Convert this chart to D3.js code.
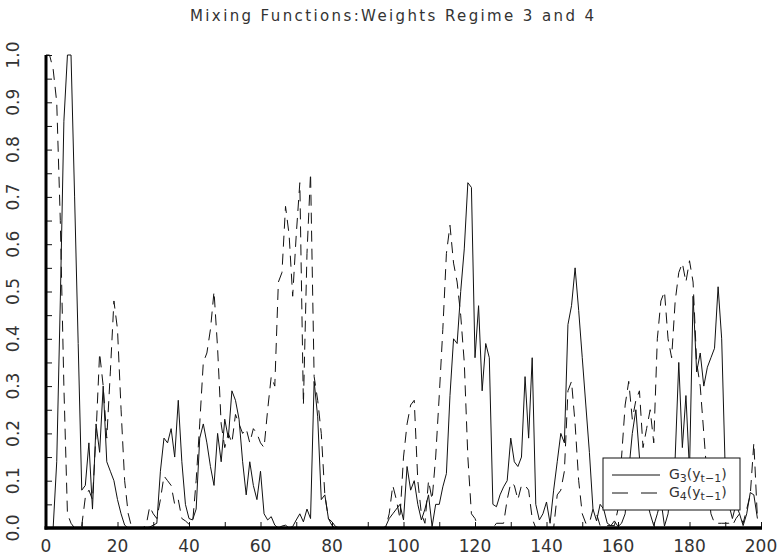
<!DOCTYPE html>
<html>
<head>
<meta charset="utf-8">
<script src="https://cdn.jsdelivr.net/npm/d3@7"></script>
<style>
  html, body { margin: 0; padding: 0; background: #fff; }
  svg { display: block; }
  text { font-family: "DejaVu Sans", sans-serif; fill: #333; }
</style>
</head>
<body>
<svg id="chart" width="782" height="556"></svg>
<script>
// Mixing functions: weights of regime 3 and 4, t = 0..199

const TITLE = 'Mixing Functions:Weights Regime 3 and 4';
const X_TICKS = [0, 20, 40, 60, 80, 100, 120, 140, 160, 180, 200];
const Y_TICKS = [0, 0.1, 0.2, 0.3, 0.4, 0.5, 0.6, 0.7, 0.8, 0.9, 1.0];

// G3(y_{t-1}) - solid
const g3 = [
  0, 0, 0, 0.14, 0.48, 0.86, 1.0, 1.0, 0.7, 0.39,
  0.08, 0.09, 0.18, 0.04, 0.22, 0.16, 0.30, 0.14, 0.12, 0.10,
  0.06, 0.03, 0.006, 0, 0, 0, 0, 0, 0, 0.002,
  0.006, 0.01, 0.12, 0.19, 0.18, 0.21, 0.15, 0.27, 0.14, 0.05,
  0.02, 0.017, 0.04, 0.19, 0.22, 0.18, 0.13, 0.09, 0.20, 0.14,
  0.23, 0.19, 0.29, 0.27, 0.23, 0.14, 0.07, 0.14, 0.09, 0.06,
  0.12, 0.03, 0.017, 0.024, 0.006, 0, 0.004, 0.006, 0, 0.003,
  0.017, 0.03, 0.013, 0.04, 0.02, 0.31, 0.235, 0.06, 0.07, 0.02,
  0.013, 0.003, 0, 0, 0, 0, 0, 0, 0, 0,
  0, 0, 0, 0, 0, 0.003, 0.02, 0.03, 0.04, 0.05,
  0.017, 0.13, 0.08, 0.10, 0.05, 0.017, 0.04, 0.07, 0.003, 0.05,
  0.05, 0.087, 0.115, 0.28, 0.40, 0.39, 0.50, 0.59, 0.73, 0.72,
  0.36, 0.47, 0.29, 0.39, 0.36, 0.05, 0.045, 0.07, 0.087, 0.10,
  0.19, 0.14, 0.13, 0.15, 0.32, 0.19, 0.36, 0.05, 0.017, 0.03,
  0.055, 0.01, 0.08, 0.14, 0.20, 0.18, 0.43, 0.47, 0.55, 0.46,
  0.36, 0.26, 0.16, 0.04, 0.015, 0.05, 0.04, 0.01, 0.005, 0.015,
  0.003, 0.01, 0.03, 0.12, 0.20, 0.25, 0.15, 0.09, 0.06, 0.03,
  0.005, 0.03, 0.06, 0.004, 0.03, 0.10, 0.15, 0.35, 0.17, 0.28,
  0.12, 0.49, 0.33, 0.37, 0.30, 0.34, 0.36, 0.38, 0.51, 0.40,
  0.12, 0.05, 0.02, 0.05, 0.03, 0.005, 0.03, 0.075, 0.07, 0.02
];

// G4(y_{t-1}) - dashed
const g4 = [
  1.0, 1.0, 0.97, 0.9, 0.65, 0.3, 0.03, 0.01, 0, 0,
  0.005, 0.065, 0.08, 0.06, 0.20, 0.37, 0.30, 0.19, 0.33, 0.48,
  0.42, 0.25, 0.10, 0.03, 0, 0, 0, 0, 0.005, 0.045,
  0.03, 0.02, 0.06, 0.11, 0.10, 0.09, 0.05, 0.06, 0.02, 0.015,
  0.008, 0.01, 0.10, 0.22, 0.35, 0.37, 0.42, 0.50, 0.38, 0.22,
  0.17, 0.20, 0.18, 0.24, 0.22, 0.20, 0.21, 0.18, 0.21, 0.20,
  0.18, 0.17, 0.25, 0.32, 0.30, 0.52, 0.54, 0.68, 0.62, 0.49,
  0.62, 0.73, 0.26, 0.58, 0.75, 0.32, 0.27, 0.20, 0.07, 0.02,
  0.005, 0, 0, 0, 0, 0, 0, 0, 0, 0,
  0, 0, 0, 0, 0, 0, 0.03, 0.09, 0.06, 0.02,
  0.15, 0.22, 0.26, 0.27, 0.10, 0.03, 0.01, 0.10, 0.06, 0.15,
  0.28, 0.42, 0.58, 0.64, 0.56, 0.52, 0.45, 0.35, 0.15, 0.03,
  0.02, 0, 0, 0, 0, 0, 0.01, 0.01, 0.01, 0.06,
  0.095, 0.09, 0.06, 0.09, 0.09, 0.08, 0.02, 0, 0, 0,
  0, 0, 0, 0.07, 0.08, 0.12, 0.29, 0.31, 0.22, 0.10,
  0.03, 0.01, 0.01, 0.04, 0.03, 0.005, 0.005, 0.005, 0.005, 0.005,
  0.04, 0.15, 0.26, 0.31, 0.23, 0.27, 0.29, 0.17, 0.21, 0.25,
  0.18, 0.40, 0.48, 0.50, 0.40, 0.36, 0.48, 0.54, 0.56, 0.52,
  0.565, 0.52, 0.35, 0.30, 0.20, 0.10, 0.03, 0.01, 0.01, 0.01,
  0.01, 0.01, 0.005, 0.02, 0.03, 0.01, 0.04, 0.07, 0.18, 0.02
];

const svg = d3.select('#chart');

const x = d3.scaleLinear().domain([0, 200]).range([46, 761]);
const y = d3.scaleLinear().domain([0, 1]).range([528, 55]);

// title
svg.append('text')
  .attr('x', 392)
  .attr('y', 21)
  .attr('text-anchor', 'middle')
  .attr('textLength', 404)
  .attr('lengthAdjust', 'spacing')
  .style('font-size', '15px')
  .text(TITLE);

// series
const line = d3.line()
  .x((d, i) => x(i))
  .y(d => y(d));

svg.append('path')
  .datum(g3)
  .attr('fill', 'none')
  .attr('stroke', '#111')
  .attr('stroke-width', 1)
  .attr('d', line);

svg.append('path')
  .datum(g4)
  .attr('fill', 'none')
  .attr('stroke', '#111')
  .attr('stroke-width', 1)
  .attr('stroke-dasharray', '11,7')
  .attr('d', line);

// axes: inward ticks, thick spines
const yAxis = d3.axisRight(y)
  .tickValues(d3.range(0, 1.0001, 0.05))
  .tickSize(6)
  .tickFormat('');

const xAxis = d3.axisTop(x)
  .tickValues(d3.range(0, 201, 10))
  .tickSize(6)
  .tickFormat('');

const gy = svg.append('g').attr('transform', `translate(${x(0)},0)`).call(yAxis);
const gx = svg.append('g').attr('transform', `translate(0,${y(0)})`).call(xAxis);

[gy, gx].forEach(g => {
  g.select('.domain').remove();
  g.selectAll('.tick line').attr('stroke', '#111').attr('stroke-width', 1);
});

svg.append('line')
  .attr('x1', x(0)).attr('x2', x(0))
  .attr('y1', y(1)).attr('y2', y(0) + 1.5)
  .attr('stroke', '#000').attr('stroke-width', 3);

svg.append('line')
  .attr('x1', x(0) - 1.5).attr('x2', x(200) + 1)
  .attr('y1', y(0)).attr('y2', y(0))
  .attr('stroke', '#000').attr('stroke-width', 3.5);

// tick labels
svg.append('g')
  .selectAll('text')
  .data(Y_TICKS)
  .join('text')
  .attr('transform', d => `translate(19,${y(d)}) rotate(-90)`)
  .attr('text-anchor', 'middle')
  .style('font-size', '17px')
  .text(d => d.toFixed(1));

svg.append('g')
  .selectAll('text')
  .data(X_TICKS)
  .join('text')
  .attr('x', d => x(d))
  .attr('y', 552)
  .attr('text-anchor', 'middle')
  .style('font-size', '17px')
  .text(d => d);

// legend
const legend = svg.append('g').attr('transform', 'translate(603,458)');

legend.append('rect')
  .attr('width', 137)
  .attr('height', 52)
  .attr('fill', '#fff')
  .attr('stroke', '#111')
  .attr('stroke-width', 1);

const entries = [
  { sub: '3', dash: null, yy: 17 },
  { sub: '4', dash: '16,13', yy: 35 }
];

entries.forEach(e => {
  legend.append('line')
    .attr('x1', 9).attr('x2', 57)
    .attr('y1', e.yy).attr('y2', e.yy)
    .attr('stroke', '#111')
    .attr('stroke-dasharray', e.dash);

  const t = legend.append('text')
    .attr('x', 66)
    .attr('y', e.yy + 4)
    .style('font-size', '14px');
  t.append('tspan').text('G');
  t.append('tspan').attr('dy', 3).style('font-size', '11px').text(e.sub);
  t.append('tspan').attr('dy', -3).text('(y');
  t.append('tspan').attr('dy', 3).style('font-size', '11px').text('t\u22121');
  t.append('tspan').attr('dy', -3).text(')');
});
</script>
</body>
</html>
